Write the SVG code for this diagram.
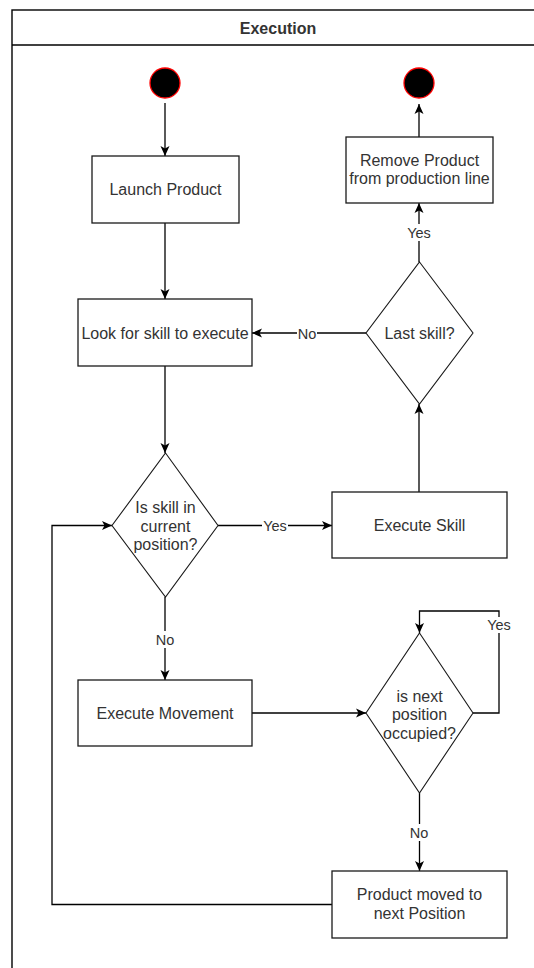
<svg xmlns="http://www.w3.org/2000/svg" width="534" height="968" viewBox="0 0 534 968">
  <style>
    .frame { fill: #ffffff; stroke: #000000; stroke-width: 1.4; }
    .box { fill: #ffffff; stroke: #1a1a1a; stroke-width: 1.3; }
    .dec { fill: #ffffff; stroke: #1a1a1a; stroke-width: 1.1; }
    .state { fill: #000000; stroke: #ff0000; stroke-width: 1.3; }
    .edge { fill: none; stroke: #000000; stroke-width: 1.3; }
    .txt { font-family: "Liberation Sans", Arial, sans-serif; font-size: 16px; fill: #333333; text-anchor: middle; }
    .title { font-weight: bold; }
    .lbl { font-family: "Liberation Sans", Arial, sans-serif; font-size: 14.5px; fill: #333333; text-anchor: middle; }
    .lblbg { fill: #ffffff; }
  </style>
  <defs>
    <marker id="arrow" markerUnits="userSpaceOnUse" markerWidth="12" markerHeight="10" refX="10" refY="5" orient="auto">
      <path d="M0,0.5 L10,5 L0,9.5 L2.5,5 Z" fill="#000000"/>
    </marker>
  </defs>

  <rect width="534" height="968" fill="#ffffff"/>

  <!-- swimlane container -->
  <g id="lane">
    <rect class="frame" x="12" y="10" width="532" height="1000"/>
    <line x1="12" y1="45" x2="544" y2="45" stroke="#000000" stroke-width="1.4"/>
    <text class="txt title" x="278" y="33.5">Execution</text>
  </g>

  <!-- connectors -->
  <g id="edges">
    <line class="edge" x1="165" y1="103" x2="165" y2="156" marker-end="url(#arrow)"/>
    <line class="edge" x1="165" y1="223" x2="165" y2="299" marker-end="url(#arrow)"/>
    <line class="edge" x1="165" y1="366" x2="165" y2="453" marker-end="url(#arrow)"/>
    <line class="edge" x1="419" y1="137" x2="419" y2="104" marker-end="url(#arrow)"/>
    <line class="edge" x1="419" y1="262" x2="419" y2="203" marker-end="url(#arrow)"/>
    <line class="edge" x1="366" y1="333" x2="252" y2="333" marker-end="url(#arrow)"/>
    <line class="edge" x1="419" y1="492" x2="419" y2="404" marker-end="url(#arrow)"/>
    <line class="edge" x1="218" y1="525.5" x2="332" y2="525.5" marker-end="url(#arrow)"/>
    <line class="edge" x1="165" y1="597" x2="165" y2="680" marker-end="url(#arrow)"/>
    <line class="edge" x1="252" y1="713" x2="366" y2="713" marker-end="url(#arrow)"/>
    <polyline class="edge" points="473,713 499,713 499,611 419.5,611 419.5,633" marker-end="url(#arrow)"/>
    <line class="edge" x1="419.5" y1="793" x2="419.5" y2="871" marker-end="url(#arrow)"/>
    <polyline class="edge" points="332,904.5 52,904.5 52,525.5 112,525.5" marker-end="url(#arrow)"/>

    <!-- edge labels -->
    <rect class="lblbg" x="406" y="224" width="26" height="17"/>
    <text class="lbl" x="419" y="238">Yes</text>
    <rect class="lblbg" x="297" y="325" width="20" height="17"/>
    <text class="lbl" x="307" y="338.5">No</text>
    <rect class="lblbg" x="262" y="517" width="26" height="17"/>
    <text class="lbl" x="275" y="531">Yes</text>
    <rect class="lblbg" x="155" y="631" width="20" height="17"/>
    <text class="lbl" x="165" y="644.5">No</text>
    <rect class="lblbg" x="486" y="617" width="26" height="16"/>
    <text class="lbl" x="499" y="630">Yes</text>
    <rect class="lblbg" x="409" y="824" width="20" height="17"/>
    <text class="lbl" x="419" y="838">No</text>
  </g>

  <g id="start">
    <circle class="state" cx="165" cy="83" r="15"/>
  </g>
  <g id="end">
    <circle class="state" cx="419" cy="83" r="15"/>
  </g>

  <g id="launch-product">
    <rect class="box" x="92" y="156" width="147" height="67"/>
    <text class="txt" x="165.5" y="195">Launch Product</text>
  </g>

  <g id="remove-product">
    <rect class="box" x="346" y="137" width="147" height="66"/>
    <text class="txt" x="419.5" y="166">Remove Product</text>
    <text class="txt" x="419.5" y="184">from production line</text>
  </g>

  <g id="look-for-skill">
    <rect class="box" x="78" y="299" width="174" height="67"/>
    <text class="txt" x="165" y="338.5">Look for skill to execute</text>
  </g>

  <g id="last-skill">
    <polygon class="dec" points="419.5,262 473,333 419.5,404 366,333"/>
    <text class="txt" x="419.5" y="338.5">Last skill?</text>
  </g>

  <g id="is-skill-in-position">
    <polygon class="dec" points="165.5,453 218,525.5 165.5,597 112,525.5"/>
    <text class="txt" x="165.5" y="513">Is skill in</text>
    <text class="txt" x="165.5" y="531.5">current</text>
    <text class="txt" x="165.5" y="550">position?</text>
  </g>

  <g id="execute-skill">
    <rect class="box" x="332" y="492" width="175" height="66"/>
    <text class="txt" x="419.5" y="531">Execute Skill</text>
  </g>

  <g id="execute-movement">
    <rect class="box" x="78" y="680" width="174" height="66"/>
    <text class="txt" x="165" y="718.5">Execute Movement</text>
  </g>

  <g id="next-position-occupied">
    <polygon class="dec" points="419.5,633 473,713 419.5,793 366,713"/>
    <text class="txt" x="419.5" y="701.5">is next</text>
    <text class="txt" x="419.5" y="720">position</text>
    <text class="txt" x="419.5" y="738.5">occupied?</text>
  </g>

  <g id="product-moved">
    <rect class="box" x="332" y="871" width="175" height="67"/>
    <text class="txt" x="419.5" y="900">Product moved to</text>
    <text class="txt" x="419.5" y="918.5">next Position</text>
  </g>
</svg>
